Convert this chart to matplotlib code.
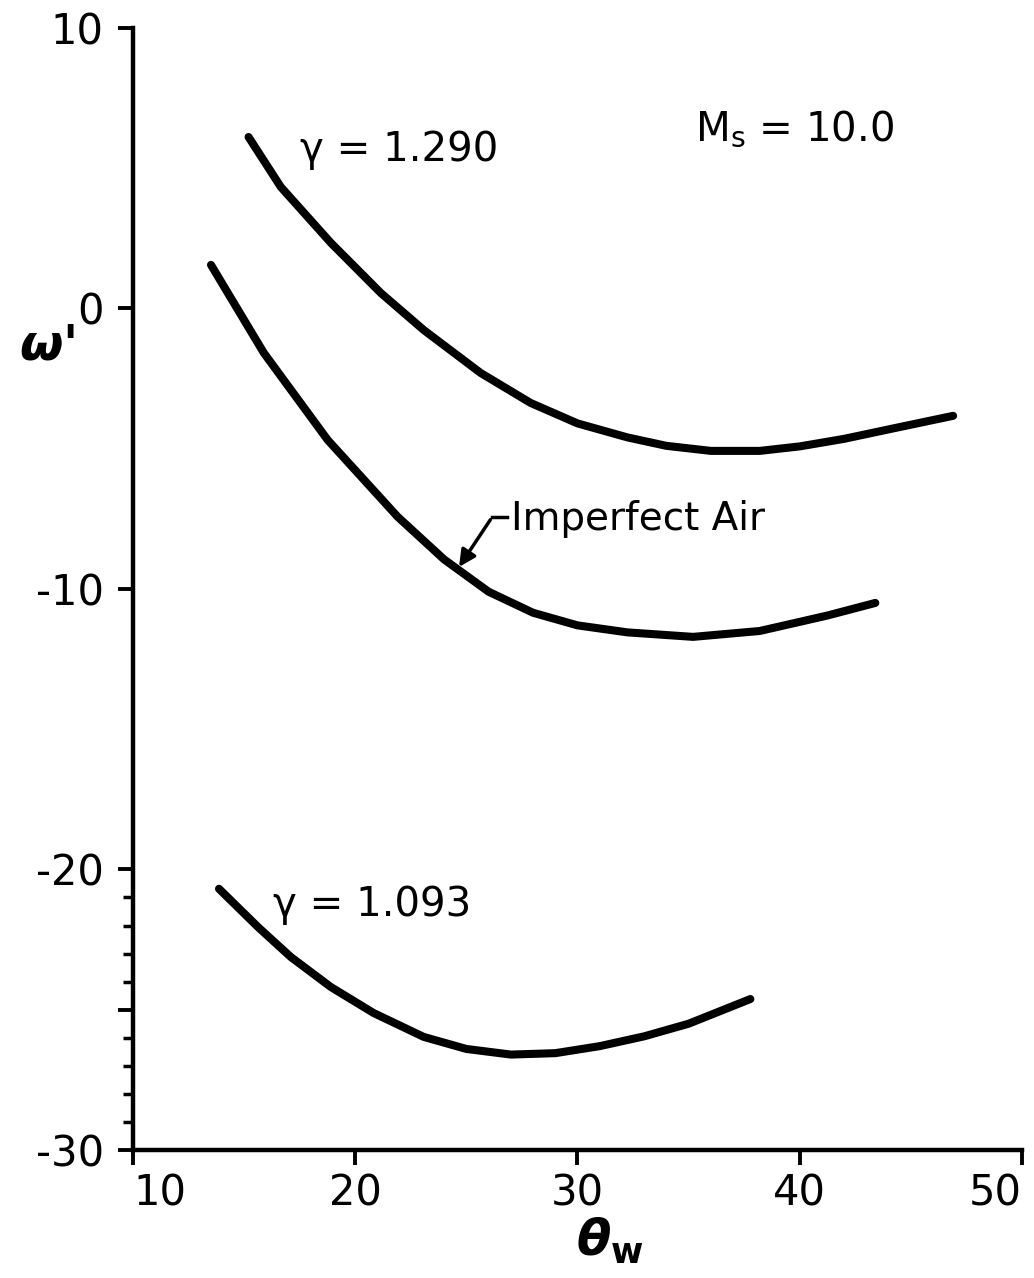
import matplotlib.pyplot as plt

plt.rcParams['font.family'] = ['DejaVu Sans']
plt.rcParams['mathtext.fontset'] = 'dejavusans'

# gamma = 1.290 curve
theta_g1290 = [15.2, 16.65, 18.9, 21.15, 23.08, 25.64, 27.89, 30.0, 32.25, 34.0, 36.0, 38.2, 40.0, 42.0, 44.2, 46.9]
omega_g1290 = [6.11, 4.33, 2.34, 0.55, -0.77, -2.30, -3.37, -4.1, -4.6, -4.9, -5.08, -5.08, -4.92, -4.65, -4.28, -3.83]

# imperfect air curve
theta_air = [13.51, 15.89, 18.76, 21.91, 24.0, 26.0, 28.0, 30.0, 32.25, 35.2, 38.2, 41.24, 43.4]
omega_air = [1.55, -1.59, -4.69, -7.43, -8.95, -10.1, -10.85, -11.3, -11.55, -11.71, -11.5, -10.95, -10.5]

# gamma = 1.093 curve
theta_g1093 = [13.87, 15.62, 17.1, 18.9, 20.83, 23.08, 25.0, 27.0, 29.0, 31.0, 33.0, 35.0, 37.78]
omega_g1093 = [-20.69, -22.05, -23.12, -24.19, -25.12, -25.97, -26.4, -26.6, -26.55, -26.3, -25.95, -25.5, -24.62]

xticks = [10, 20, 30, 40, 50]
yticks = [10, 0, -10, -20, -25, -30]
ytick_labels = ['10', '0', '-10', '-20', '', '-30']
yminor = [-21, -22, -23, -24, -26, -27, -28, -29]

fig = plt.figure(figsize=(10.34, 12.78), dpi=100)
ax = fig.add_axes([0.1286, 0.1002, 0.8598, 0.878])

for xs, ys in [(theta_g1290, omega_g1290), (theta_air, omega_air), (theta_g1093, omega_g1093)]:
    ax.plot(xs, ys, color='black', lw=5.8, solid_capstyle='round', solid_joinstyle='round')

ax.set_xlim(10, 50)
ax.set_ylim(-30, 10)
ax.spines['top'].set_visible(False)
ax.spines['right'].set_visible(False)
ax.spines['left'].set_linewidth(3.2)
ax.spines['bottom'].set_linewidth(3.2)

ax.set_xticks(xticks)
ax.set_xticklabels([str(t) for t in xticks])
ax.set_yticks(yticks)
ax.set_yticklabels(ytick_labels)
ax.set_yticks(yminor, minor=True)
ax.tick_params(axis='both', which='major', direction='out', length=11, width=2.8,
               labelsize=30, pad=10)
ax.tick_params(axis='x', which='major', pad=5)
ax.tick_params(axis='y', which='minor', direction='out', length=7, width=2.5)
ax.get_xticklabels()[-1].set_ha('right')
ax.get_xticklabels()[0].set_ha('left')

ax.text(17.5, 5.65, 'γ = 1.290', fontsize=29, va='center', ha='left')
ax.text(16.3, -21.27, 'γ = 1.093', fontsize=29, va='center', ha='left')
ax.text(35.3, 6.4, r'M$_\mathrm{s}$ = 10.0', fontsize=29, va='center', ha='left')
ax.text(27.0, -7.5, 'Imperfect Air', fontsize=28, va='center', ha='left')
ax.plot([26.85, 26.15], [-7.45, -7.45], color='black', lw=2.5)
ax.annotate('', xy=(24.6, -9.3), xytext=(26.15, -7.45),
            arrowprops=dict(arrowstyle='-|>', color='black', lw=2.5, mutation_scale=25))

fig.text(0.045, 0.73, r"$\boldsymbol{\omega}$'", fontsize=36, ha='center', va='center', fontweight='bold')
fig.text(0.59, 0.029, r'$\boldsymbol{\theta}_{\mathbf{w}}$', fontsize=36, ha='center', va='center')

plt.savefig('out.png', dpi=100)
